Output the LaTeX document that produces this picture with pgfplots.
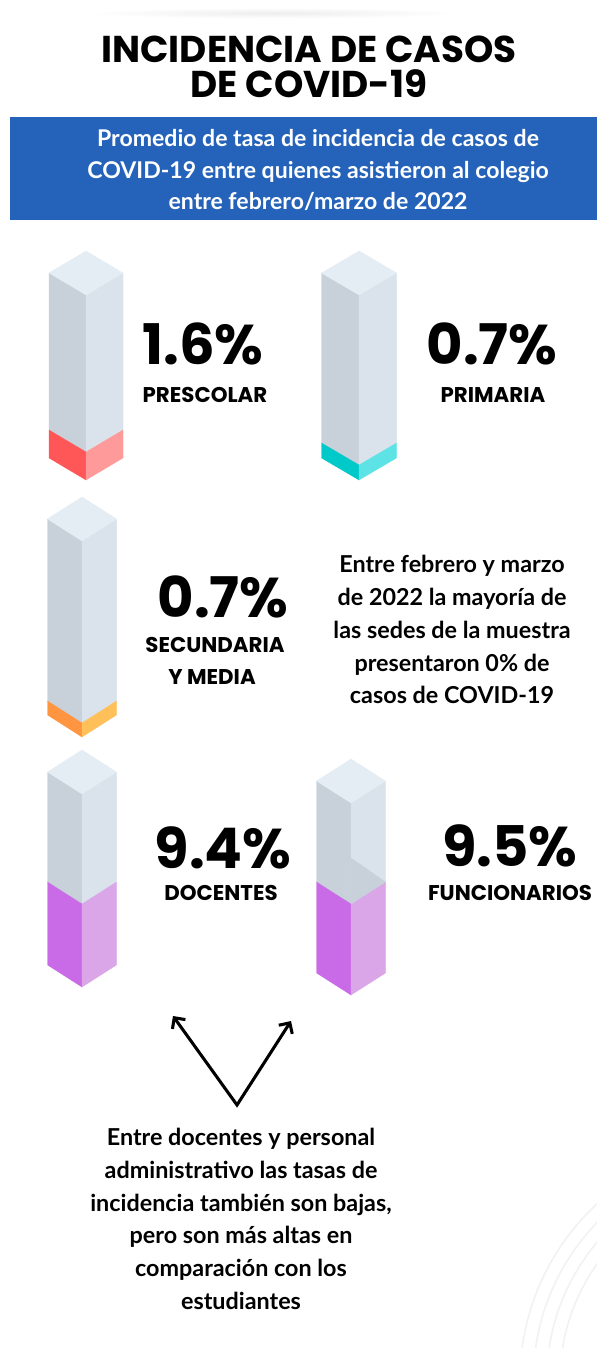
\documentclass[border=0pt]{standalone}
\usepackage{pgfplots}
\pgfplotsset{compat=1.18}
\usepackage{fontspec}
\setmainfont{Lato}
\newfontfamily\geo{Poppins}
\usetikzlibrary{arrows.meta}

\definecolor{banner}{HTML}{2563BA}
\definecolor{cubetop}{HTML}{E4ECF4}
\definecolor{cubeleft}{HTML}{C8D0DA}
\definecolor{cuberight}{HTML}{DAE2EC}
\definecolor{redD}{HTML}{FF5757}
\definecolor{redL}{HTML}{FF9A9A}
\definecolor{tealD}{HTML}{00C9C9}
\definecolor{tealL}{HTML}{5DE3E6}
\definecolor{orangeD}{HTML}{FF9540}
\definecolor{orangeL}{HTML}{FFC05A}
\definecolor{purpleD}{HTML}{C96BE6}
\definecolor{purpleL}{HTML}{DAA6E8}

% one isometric column: centre x, half width, top y, colour y, bottom y (side edges), dark, light
\newcommand{\colbar}[7]{%
  \pgfmathsetmacro\xl{#1-#2}%
  \pgfmathsetmacro\xr{#1+#2}%
  \pgfmathsetmacro\ya{#3-22}%
  \pgfmathsetmacro\yf{#3+22}%
  \pgfmathsetmacro\yc{#4+22}%
  \pgfmathsetmacro\yb{#5+22}%
  \addplot[fill=cubeleft,draw=cubeleft,line width=0.2pt] coordinates {(\xl,#3) (#1,\yf) (#1,\yc) (\xl,#4)} -- cycle;
  \addplot[fill=cuberight,draw=cuberight,line width=0.2pt] coordinates {(#1,\yf) (\xr,#3) (\xr,#4) (#1,\yc)} -- cycle;
  \addplot[fill=#6,draw=#6,line width=0.2pt] coordinates {(\xl,#4) (#1,\yc) (#1,\yb) (\xl,#5)} -- cycle;
  \addplot[fill=#7,draw=#7,line width=0.2pt] coordinates {(#1,\yc) (\xr,#4) (\xr,#5) (#1,\yb)} -- cycle;
  \addplot[fill=cubetop,draw=cubetop,line width=0.2pt] coordinates {(\xl,#3) (#1,\ya) (\xr,#3) (#1,\yf)} -- cycle;
}

\begin{document}
\begin{tikzpicture}
\begin{axis}[
  scale only axis,
  width=447.75pt, height=1011pt,
  xmin=0, xmax=597, ymin=0, ymax=1348,
  y dir=reverse,
  hide axis,
]
\addplot[fill=white,draw=none] coordinates {(0,0) (597,0) (597,1348) (0,1348)} -- cycle;

% faint decorations
\shade[inner color=gray!14, outer color=white] (axis cs:275,13) ellipse [x radius=140pt, y radius=4pt];
\draw[gray!10, line width=1.2pt] (axis cs:760,1380) circle [radius=150pt];
\draw[gray!10, line width=1.2pt] (axis cs:760,1380) circle [radius=160pt];
\draw[gray!10, line width=1.2pt] (axis cs:760,1380) circle [radius=170pt];
\draw[gray!10, line width=1.2pt] (axis cs:760,1380) circle [radius=180pt];

% banner
\fill[banner] (axis cs:10,117) rectangle (axis cs:597,220);

% columns (pixel geometry of each column)
\colbar{86}{37}{273}{430}{458}{redD}{redL}
\colbar{359}{37.5}{273}{443}{458}{tealD}{tealL}
\colbar{82}{34.5}{519}{701}{715}{orangeD}{orangeL}
\colbar{82}{34.5}{772}{882}{965}{purpleD}{purpleL}
\colbar{351}{34.5}{781}{882}{973}{purpleD}{purpleL}
\addplot[fill=cubeleft,draw=cubeleft,line width=0.2pt] coordinates {(351,858) (385.5,882) (351,904)} -- cycle;

% title
\begin{scope}[every node/.style={anchor=base, inner sep=0pt, font=\geo\bfseries\fontsize{28}{28}\selectfont}]
\node at (axis cs:309,63) {INCIDENCIA DE CASOS};
\node at (axis cs:309,98) {DE COVID-19};
\end{scope}

% banner text
\begin{scope}[every node/.style={anchor=base, text=white, font=\bfseries\fontsize{17.3}{20}\selectfont}]
\node at (axis cs:318,147) {Promedio de tasa de incidencia de casos de};
\node at (axis cs:318,179) {COVID-19 entre quienes asistieron al colegio};
\node at (axis cs:318,210) {entre febrero/marzo de 2022};
\end{scope}

% values
\begin{scope}[every node/.style={anchor=base, font=\geo\bfseries\fontsize{42}{42}\selectfont}]
\node at (axis cs:203,364) {1.6\%};
\node at (axis cs:492,364) {0.7\%};
\node at (axis cs:223,617) {0.7\%};
\node at (axis cs:223,868) {9.4\%};
\node at (axis cs:510,866) {9.5\%};
\end{scope}
\begin{scope}[every node/.style={anchor=base, font=\geo\bfseries\fontsize{16}{16}\selectfont}]
\node at (axis cs:205,402) {PRESCOLAR};
\node at (axis cs:493,402) {PRIMARIA};
\node at (axis cs:215,652) {SECUNDARIA};
\node at (axis cs:212,684) {Y MEDIA};
\node at (axis cs:221,900) {DOCENTES};
\node at (axis cs:510,900) {FUNCIONARIOS};
\end{scope}

% notes
\begin{scope}[every node/.style={anchor=base, font=\bfseries\fontsize{17.5}{20}\selectfont}]
\node at (axis cs:452,572) {Entre febrero y marzo};
\node at (axis cs:452,605) {de 2022 la mayoría de};
\node at (axis cs:452,638) {las sedes de la muestra};
\node at (axis cs:452,671) {presentaron 0\% de};
\node at (axis cs:452,703) {casos de COVID-19};
\node at (axis cs:241,1145) {Entre docentes y personal};
\node at (axis cs:241,1178) {administrativo las tasas de};
\node at (axis cs:241,1211) {incidencia también son bajas,};
\node at (axis cs:241,1243) {pero son más altas en};
\node at (axis cs:241,1276) {comparación con los};
\node at (axis cs:241,1309) {estudiantes};
\end{scope}

% arrows
\draw[line width=2.3pt, {Straight Barb[length=6pt,width=12pt,line width=2.3pt 0]}-{Straight Barb[length=6pt,width=12pt,line width=2.3pt 0]}]
  (axis cs:173,1016) -- (axis cs:237,1105) -- (axis cs:291,1021);
\end{axis}
\end{tikzpicture}
\end{document}
